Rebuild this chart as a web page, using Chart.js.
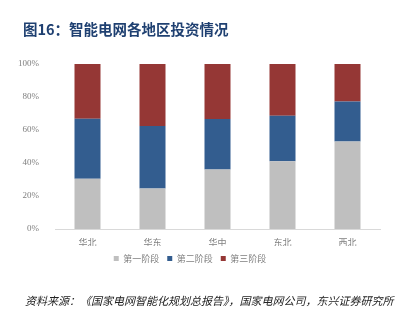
<!DOCTYPE html>
<html>
<head>
<meta charset="utf-8">
<script src="https://cdn.jsdelivr.net/npm/chart.js@4/dist/chart.umd.min.js"></script>
<style>
  html, body { margin:0; padding:0; background:#fff; }
  #wrap { position:relative; width:408px; height:325px; overflow:hidden; }
  #title { position:absolute; left:23px; top:18px; font:bold 14.5px "Noto Sans CJK SC", sans-serif; color:#1F4071; white-space:nowrap; }
  #src { position:absolute; left:25px; top:292px; font:italic 11px "Noto Sans CJK SC", serif; color:#222; white-space:nowrap; }
  canvas { position:absolute; left:0; top:0; }
</style>
</head>
<body>
<div id="wrap">
  <canvas id="c" width="408" height="325"></canvas>
  <div id="title">图16：智能电网各地区投资情况</div>
  <div id="src">资料来源：《国家电网智能化规划总报告》，国家电网公司，东兴证券研究所</div>
</div>
<script>
  // ===== data =====
  const regions = ['华北', '华东', '华中', '东北', '西北'];
  const stageNames = ['第一阶段', '第二阶段', '第三阶段'];
  const stage1 = [30.5, 24.6, 36.0, 41.0, 53.0];
  const stage2 = [36.3, 37.8, 30.6, 27.7, 24.2];
  const stage3 = [33.2, 37.6, 33.4, 31.3, 22.8];
  const yTicks = [0, 20, 40, 60, 80, 100];

  const colors = ['#BFBFBF', '#335D8F', '#953735'];
  const tickFont = { family: '"Liberation Serif", serif', size: 9 };
  const cjkFont = { family: '"Noto Sans CJK SC", sans-serif', size: 9 };

  new Chart(document.getElementById('c'), {
    type: 'bar',
    data: {
      labels: regions,
      datasets: [stage1, stage2, stage3].map((d, i) => ({
        label: stageNames[i],
        data: d,
        backgroundColor: colors[i],
        barPercentage: 0.4,
        categoryPercentage: 1.0
      }))
    },
    options: {
      responsive: false,
      animation: false,
      layout: { padding: { left: 0, right: 28, top: 64, bottom: 52 } },
      plugins: {
        tooltip: { enabled: false },
        legend: {
          position: 'bottom',
          labels: {
            boxWidth: 5, boxHeight: 5, padding: 8,
            color: '#7F7F7F', font: cjkFont
          }
        }
      },
      scales: {
        x: {
          stacked: true,
          afterFit: s => { s.height = 17; },
          grid: { display: false },
          border: { color: '#D9D9D9', width: 1 },
          ticks: { color: '#7F7F7F', font: cjkFont, padding: 0 }
        },
        y: {
          stacked: true,
          min: 0, max: 100,
          afterBuildTicks: s => { s.ticks = yTicks.map(v => ({ value: v })); },
          afterFit: s => { s.width = 55; },
          grid: { display: false },
          border: { display: false },
          ticks: { color: '#7F7F7F', font: tickFont, padding: 8, callback: v => v + '%' }
        }
      }
    }
  });
</script>
</body>
</html>
